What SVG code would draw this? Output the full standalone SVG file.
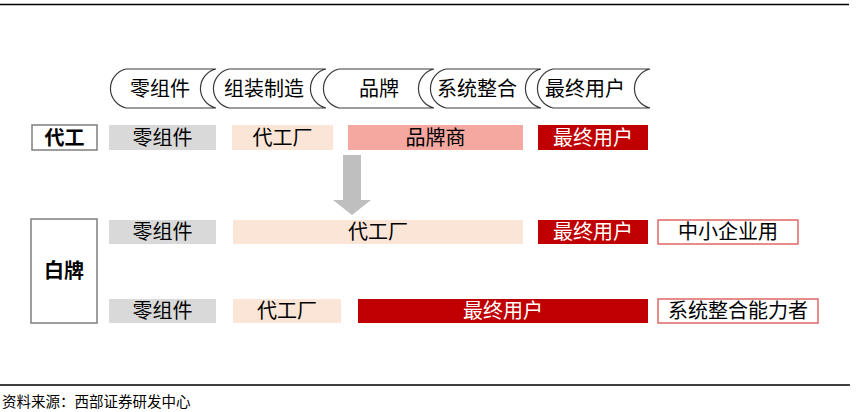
<svg xmlns="http://www.w3.org/2000/svg" width="862" height="412" viewBox="0 0 862 412">
<style>
text{font-family:"Noto Sans CJK SC","Noto Sans",sans-serif;font-size:20px;text-anchor:middle;fill:#000}
.w{fill:#fff}
.b{font-weight:bold}
.stage{fill:#fff;stroke:#3a3a3a;stroke-width:1.2}
.gray{fill:#d9d9d9}
.peach{fill:#fbe5d6}
.salmon{fill:#f4a8a0}
.red{fill:#c00000}
.lab{fill:#fff;stroke:#7f7f7f;stroke-width:1.5}
.out{fill:#fff;stroke:#e06666;stroke-width:1.5}
.src{font-size:14.5px;text-anchor:start}
</style>
<line x1="0" y1="4.5" x2="849" y2="4.5" stroke="#000" stroke-width="1.3"/>
<line x1="0" y1="385" x2="850" y2="385" stroke="#000" stroke-width="1.3"/>

<g id="stages">
<g id="s1"><path class="stage" d="M126,69 H216 A20,20 0 0 0 216,108 H126 A20,20 0 0 1 126,69 Z"/><text x="160" y="95.5">零组件</text></g>
<g id="s2"><path class="stage" d="M229,69 H326 A20,20 0 0 0 326,108 H229 A20,20 0 0 1 229,69 Z"/><text x="264" y="95.5">组装制造</text></g>
<g id="s3"><path class="stage" d="M339,69 H434 A20,20 0 0 0 434,108 H339 A20,20 0 0 1 339,69 Z"/><text x="379" y="95.5">品牌</text></g>
<g id="s4"><path class="stage" d="M446,69 H541 A20,20 0 0 0 541,108 H446 A20,20 0 0 1 446,69 Z"/><text x="477" y="95.5">系统整合</text></g>
<g id="s5"><path class="stage" d="M553,69 H650 A20,20 0 0 0 650,108 H553 A20,20 0 0 1 553,69 Z"/><text x="585" y="95.5">最终用户</text></g>
</g>

<g id="oem-label"><rect class="lab" x="32" y="125" width="65" height="25"/><text class="b" x="64.5" y="144.5">代工</text></g>
<g id="oem-parts"><rect class="gray" x="109" y="125" width="107" height="25"/><text x="162.5" y="144.5">零组件</text></g>
<g id="oem-factory"><rect class="peach" x="232" y="125" width="101" height="25"/><text x="282.5" y="144.5">代工厂</text></g>
<g id="oem-brand"><rect class="salmon" x="348" y="125" width="175" height="25"/><text x="435.5" y="144.5">品牌商</text></g>
<g id="oem-user"><rect class="red" x="538" y="125" width="110" height="25"/><text class="w" x="593" y="144.5">最终用户</text></g>

<g id="arrow"><path fill="#bfbfbf" d="M343,155 H361 V200 H371 L352,215 L333,200 H343 Z"/></g>

<g id="wb-label"><rect class="lab" x="31" y="219" width="66" height="104"/><text class="b" x="64" y="278">白牌</text></g>
<g id="wb1-parts"><rect class="gray" x="109" y="220" width="107" height="24"/><text x="162.5" y="239">零组件</text></g>
<g id="wb1-factory"><rect class="peach" x="233" y="220" width="290" height="24"/><text x="378" y="239">代工厂</text></g>
<g id="wb1-user"><rect class="red" x="538" y="220" width="110" height="24"/><text class="w" x="593" y="239">最终用户</text></g>
<g id="wb1-out"><rect class="out" x="658" y="220" width="140" height="24"/><text x="728" y="239">中小企业用</text></g>

<g id="wb2-parts"><rect class="gray" x="109" y="299" width="107" height="24"/><text x="162.5" y="318">零组件</text></g>
<g id="wb2-factory"><rect class="peach" x="233" y="299" width="108" height="24"/><text x="287" y="318">代工厂</text></g>
<g id="wb2-user"><rect class="red" x="358" y="299" width="290" height="24"/><text class="w" x="503" y="318">最终用户</text></g>
<g id="wb2-out"><rect class="out" x="658" y="299" width="160" height="24"/><text x="738" y="318">系统整合能力者</text></g>

<text class="src" x="2" y="407">资料来源：西部证券研发中心</text>
</svg>
